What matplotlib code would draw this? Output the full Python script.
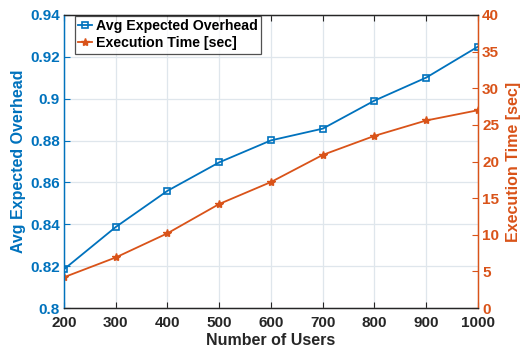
import numpy as np
import matplotlib.pyplot as plt

users = [200, 300, 400, 500, 600, 700, 800, 900, 1000]
overhead = [0.8185, 0.8387, 0.8560, 0.8696, 0.8801, 0.8857, 0.8991, 0.9101, 0.9249]
exec_time = [4.2, 6.9, 10.2, 14.2, 17.2, 20.9, 23.5, 25.6, 27.0]

blue = '#0072BD'
orange = '#D95319'
dark = '#262626'

plt.rcParams['font.family'] = ['Liberation Sans', 'DejaVu Sans']
plt.rcParams['font.weight'] = 'bold'

fig = plt.figure(figsize=(5.23, 3.52), dpi=100)
ax = fig.add_axes([64/523, 1 - 308/352, (478-64)/523, (308-15)/352])
ax2 = ax.twinx()

l1, = ax.plot(users, overhead, '-s', color=blue, lw=1.3, ms=5, mfc='none', mew=1.2,
              label='Avg Expected Overhead')
l2, = ax2.plot(users, exec_time, '-*', color=orange, lw=1.3, ms=6,
               label='Execution Time [sec]')

ax.set_xlim(200, 1000)
ax.set_ylim(0.8, 0.94)
ax2.set_ylim(0, 40)
ax.set_xticks(users)
ax.set_yticks(np.arange(0.80, 0.941, 0.02))
ax.set_yticklabels(['0.8', '0.82', '0.84', '0.86', '0.88', '0.9', '0.92', '0.94'])
ax2.set_yticks(np.arange(0, 41, 5))

ax.grid(True, color='#dfe6ec', lw=0.9)
ax.set_axisbelow(True)

ax.set_xlabel('Number of Users', fontsize=11.5, fontweight='bold', color=dark, labelpad=2)
ax.set_ylabel('Avg Expected Overhead', fontsize=11.5, fontweight='bold', color=blue, labelpad=3)
ax2.set_ylabel('Execution Time [sec]', fontsize=11.5, fontweight='bold', color=orange, labelpad=5)

ax.tick_params(axis='x', direction='in', colors=dark, labelsize=11, length=4, pad=6)
ax.tick_params(axis='y', direction='in', colors=blue, labelsize=11, length=4, pad=3)
ax2.tick_params(axis='y', direction='in', colors=orange, labelsize=11, length=4, pad=3)
ax.tick_params(top=True, which='both')

for a in (ax, ax2):
    a.spines['top'].set_color(dark)
    a.spines['bottom'].set_color(dark)
    a.spines['left'].set_color(blue)
    a.spines['right'].set_color(orange)
    for s in a.spines.values():
        s.set_linewidth(0.9)

leg = ax.legend(handles=[l1, l2], loc='upper left', bbox_to_anchor=(0.024, 1.0),
                fontsize=10.2, frameon=True, fancybox=False, edgecolor=dark,
                borderpad=0.25, handlelength=1.0, handletextpad=0.25, labelspacing=0.2,
                borderaxespad=0.05)
leg.get_frame().set_linewidth(0.9)
for t in leg.get_texts():
    t.set_fontweight('bold')
    t.set_color('black')

fig.savefig('out.png', dpi=100)
